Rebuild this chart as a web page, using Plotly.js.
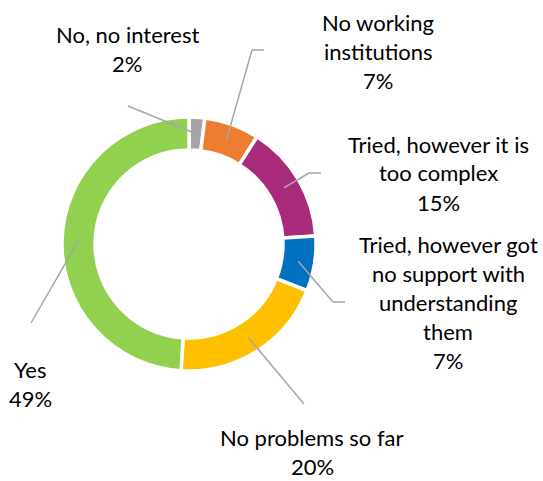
<!DOCTYPE html>
<html>
<head>
<meta charset="utf-8">
<script src="https://cdn.plot.ly/plotly-3.0.1.min.js"></script>
<style>
  html, body { margin: 0; padding: 0; background: #fff; }
  #chart { width: 543px; height: 481px; }
</style>
</head>
<body>
<div id="chart"></div>
<script>
// Survey answers, in clockwise order from 12 o'clock
const categories = [
  "No, no interest",
  "No working<br>institutions",
  "Tried, however it is<br>too complex",
  "Tried, however got<br>no support with<br>understanding<br>them",
  "No problems so far",
  "Yes"
];
const shares = [2, 7, 15, 7, 20, 49];
const sliceColors = ["#A5A5A5", "#ED7D31", "#A9297A", "#0070C0", "#FFC000", "#92D050"];

const W = 543, H = 481;
// donut geometry (pixels)
const cx = 189, cy = 244, R = 127, holeFrac = 0.74;

// label block centres (x) and first-line baselines (y), in pixels
const labelX = [127, 378, 438, 448, 312, 30];
const labelY = [42, 30, 152, 252, 445, 377];
const lineGap = 29;

// leader lines: outer end and optional elbow end, in pixels
const leaderEnd = [[128, 106], [252, 50], [309, 173], [333, 302], [304, 404], [31, 323]];
const leaderTail = [null, [264, 50], [321, 173], [345, 302], null, null];

const px = x => x / W;
const py = y => 1 - y / H;

const total = shares.reduce((a, b) => a + b, 0);
const shapes = [];
const annotations = [];
let cum = 0;
shares.forEach((v, i) => {
  const mid = (cum + v / 2) / total * 2 * Math.PI;
  cum += v;
  const rMid = R * (1 + holeFrac) / 2;
  const sx = cx + rMid * Math.sin(mid);
  const sy = cy - rMid * Math.cos(mid);
  const lineStyle = { color: "#A6A6A6", width: 1.5 };
  shapes.push({ type: "line", xref: "paper", yref: "paper",
    x0: px(sx), y0: py(sy), x1: px(leaderEnd[i][0]), y1: py(leaderEnd[i][1]), line: lineStyle });
  if (leaderTail[i]) {
    shapes.push({ type: "line", xref: "paper", yref: "paper",
      x0: px(leaderEnd[i][0]), y0: py(leaderEnd[i][1]),
      x1: px(leaderTail[i][0]), y1: py(leaderTail[i][1]), line: lineStyle });
  }
  const lines = categories[i].split("<br>").concat([v + "%"]);
  lines.forEach((t, k) => {
    annotations.push({
      xref: "paper", yref: "paper",
      x: px(labelX[i]), y: py(labelY[i] + k * lineGap - 8),
      xanchor: "center", yanchor: "middle",
      text: t, showarrow: false,
      font: { family: "Lato, 'Open Sans', sans-serif", size: 22, color: "#000000" }
    });
  });
});

const trace = {
  type: "pie",
  labels: categories,
  values: shares,
  sort: false,
  direction: "clockwise",
  rotation: 0,
  hole: holeFrac,
  textinfo: "none",
  hoverinfo: "label+percent",
  marker: { colors: sliceColors, line: { color: "#FFFFFF", width: 3.5 } },
  domain: { x: [px(cx - R), px(cx + R)], y: [py(cy + R), py(cy - R)] },
  showlegend: false
};

const layout = {
  width: W, height: H,
  margin: { l: 0, r: 0, t: 0, b: 0 },
  paper_bgcolor: "#FFFFFF",
  showlegend: false,
  shapes: shapes,
  annotations: annotations
};

Plotly.newPlot("chart", [trace], layout, { displayModeBar: false, staticPlot: true });
</script>
</body>
</html>
